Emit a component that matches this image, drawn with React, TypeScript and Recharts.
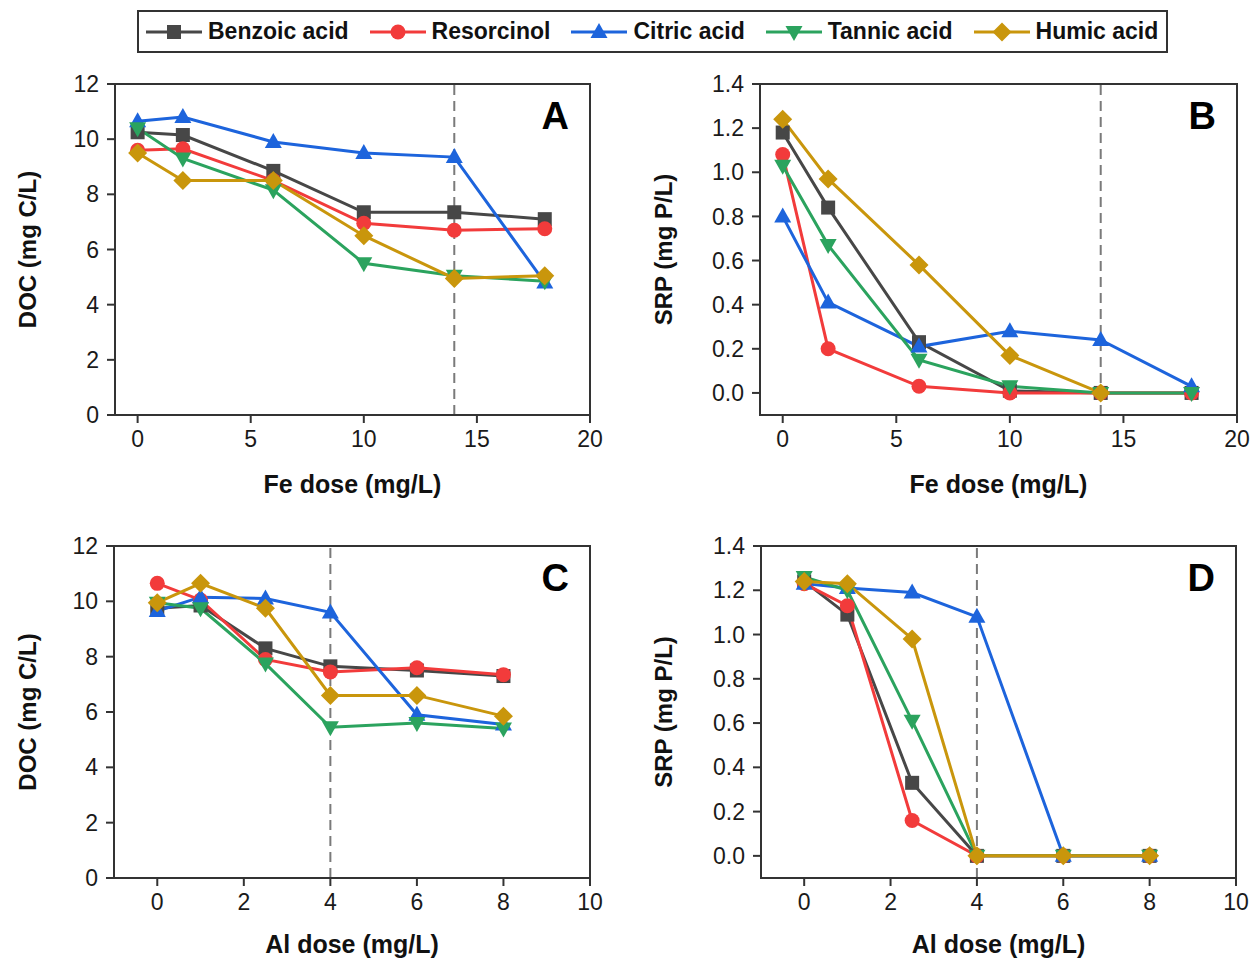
import React from "react";
import {
  LineChart,
  Line,
  XAxis,
  YAxis,
  ReferenceLine,
  ReferenceArea,
  Label,
} from "recharts";

const FONT = "'Liberation Sans', Arial, sans-serif";
const INK = "#333333";

const seriesNames = ["Benzoic acid", "Resorcinol", "Citric acid", "Tannic acid", "Humic acid"];
const seriesColors = ["#474747", "#f23b3b", "#1d64dc", "#2ba35e", "#c9960c"];
const seriesShapes = ["square", "circle", "triangle", "invTriangle", "diamond"];

const feDose = [0, 2, 6, 10, 14, 18];
const alDose = [0, 1, 2.5, 4, 6, 8];

const feTicks = [0, 5, 10, 15, 20];
const alTicks = [0, 2, 4, 6, 8, 10];
const docTicks = [0, 2, 4, 6, 8, 10, 12];
const srpTicks = [0, 0.2, 0.4, 0.6, 0.8, 1.0, 1.2, 1.4];

// one row per series, same order as seriesNames
const docFe = [
  [10.25, 10.15, 8.85, 7.35, 7.35, 7.1],
  [9.6, 9.65, 8.5, 6.95, 6.7, 6.75],
  [10.65, 10.8, 9.9, 9.5, 9.35, 4.8],
  [10.4, 9.3, 8.15, 5.5, 5.05, 4.85],
  [9.5, 8.5, 8.5, 6.5, 4.95, 5.05],
];
const srpFe = [
  [1.18, 0.84, 0.23, 0.01, 0, 0],
  [1.08, 0.2, 0.03, 0, 0, 0],
  [0.8, 0.41, 0.21, 0.28, 0.24, 0.03],
  [1.03, 0.67, 0.15, 0.03, 0, 0],
  [1.24, 0.97, 0.58, 0.17, 0, null],
];
const docAl = [
  [9.75, 9.85, 8.3, 7.65, 7.5, 7.3],
  [10.65, 10.05, 7.9, 7.45, 7.6, 7.35],
  [9.65, 10.15, 10.1, 9.6, 5.9, 5.55],
  [9.95, 9.75, 7.75, 5.45, 5.6, 5.4],
  [9.95, 10.65, 9.75, 6.6, 6.6, 5.85],
];
const srpAl = [
  [1.24, 1.09, 0.33, 0, 0, 0],
  [1.23, 1.13, 0.16, 0, 0, 0],
  [1.23, 1.21, 1.19, 1.08, 0, 0],
  [1.26, 1.2, 0.61, 0, 0, 0],
  [1.24, 1.23, 0.98, 0, 0, 0],
];

function markerShape(shape: string, cx: number, cy: number, color: string, key?: any) {
  switch (shape) {
    case "square":
      return <rect key={key} x={cx - 7} y={cy - 7} width={14} height={14} fill={color} />;
    case "circle":
      return <circle key={key} cx={cx} cy={cy} r={7.5} fill={color} />;
    case "triangle":
      return (
        <polygon key={key} points={`${cx},${cy - 9} ${cx + 8.5},${cy + 6} ${cx - 8.5},${cy + 6}`} fill={color} />
      );
    case "invTriangle":
      return (
        <polygon key={key} points={`${cx},${cy + 9} ${cx + 8.5},${cy - 6} ${cx - 8.5},${cy - 6}`} fill={color} />
      );
    default:
      return (
        <polygon key={key} points={`${cx},${cy - 9.5} ${cx + 9.5},${cy} ${cx},${cy + 9.5} ${cx - 9.5},${cy}`} fill={color} />
      );
  }
}

function Legend() {
  return (
    <div
      style={{
        position: "absolute",
        left: 137,
        top: 10,
        width: 1031,
        height: 43,
        boxSizing: "border-box",
        border: `2px solid ${INK}`,
        display: "flex",
        alignItems: "center",
        paddingLeft: 7,
        fontFamily: FONT,
        fontWeight: "bold",
        fontSize: 23,
        color: "#111",
        whiteSpace: "nowrap",
      }}
    >
      {seriesNames.map((name, i) => (
        <div
          key={name}
          style={{
            display: "flex",
            alignItems: "center",
            flexShrink: 0,
            marginRight: i < seriesNames.length - 1 ? 21 : 0,
          }}
        >
          <svg width={56} height={20} style={{ marginRight: 6 }}>
            <line x1={0} y1={10} x2={56} y2={10} stroke={seriesColors[i]} strokeWidth={3} />
            {markerShape(seriesShapes[i], 28, 10, seriesColors[i])}
          </svg>
          <span>{name}</span>
        </div>
      ))}
    </div>
  );
}

interface PanelProps {
  left: number;
  top: number;
  width: number;
  height: number;
  marginTop: number;
  marginRight: number;
  yAxisWidth: number;
  xAxisHeight: number;
  xs: number[];
  values: (number | null)[][];
  xDomain: [number, number];
  yDomain: [number, number];
  xTicks: number[];
  yTicks: number[];
  decimals: number;
  xTitle: string;
  yTitle: string;
  letter: string;
  dashX: number;
  xTitleDy: number;
  yTitleDx: number;
}

function Panel(p: PanelProps) {
  const axisLine = { stroke: INK, strokeWidth: 2 };
  const tick = { fill: "#1a1a1a", fontSize: 23, fontFamily: FONT };
  return (
    <div style={{ position: "absolute", left: p.left, top: p.top }}>
      <LineChart
        width={p.width}
        height={p.height}
        margin={{ top: p.marginTop, right: p.marginRight, left: 0, bottom: 0 }}
      >
        <XAxis
          type="number"
          dataKey="x"
          domain={p.xDomain}
          ticks={p.xTicks}
          interval={0}
          allowDataOverflow
          height={p.xAxisHeight}
          tickSize={8}
          tickMargin={8}
          axisLine={axisLine}
          tickLine={axisLine}
          tick={tick}
        >
          <Label
            content={(props: any) => {
              const vb = props.viewBox;
              return (
                <text
                  x={vb.x + vb.width / 2}
                  y={vb.y + p.xTitleDy}
                  textAnchor="middle"
                  dominantBaseline="central"
                  fontFamily={FONT}
                  fontWeight="bold"
                  fontSize={25}
                  fill="#111"
                >
                  {p.xTitle}
                </text>
              );
            }}
          />
        </XAxis>
        <YAxis
          type="number"
          domain={p.yDomain}
          ticks={p.yTicks}
          interval={0}
          allowDataOverflow
          width={p.yAxisWidth}
          tickSize={8}
          tickMargin={8}
          axisLine={axisLine}
          tickLine={axisLine}
          tick={tick}
          tickFormatter={(v: number) => v.toFixed(p.decimals)}
        >
          <Label
            content={(props: any) => {
              const vb = props.viewBox;
              const x = vb.x + p.yTitleDx;
              const y = vb.y + vb.height / 2;
              return (
                <text
                  x={x}
                  y={y}
                  transform={`rotate(-90, ${x}, ${y})`}
                  textAnchor="middle"
                  dominantBaseline="central"
                  fontFamily={FONT}
                  fontWeight="bold"
                  fontSize={24}
                  fill="#111"
                >
                  {p.yTitle}
                </text>
              );
            }}
          />
        </YAxis>
        <ReferenceArea
          x1={p.xDomain[0]}
          x2={p.xDomain[1]}
          y1={p.yDomain[0]}
          y2={p.yDomain[1]}
          fill="none"
          fillOpacity={0}
          stroke={INK}
          strokeWidth={2}
          ifOverflow="visible"
        >
          <Label
            content={(props: any) => {
              const vb = props.viewBox;
              return (
                <text
                  x={vb.x + vb.width - 21}
                  y={vb.y + 18 + 27}
                  textAnchor="end"
                  fontFamily={FONT}
                  fontWeight="bold"
                  fontSize={38}
                  fill="#000"
                >
                  {p.letter}
                </text>
              );
            }}
          />
        </ReferenceArea>
        <ReferenceLine x={p.dashX} stroke="#7a7a7a" strokeWidth={2} strokeDasharray="10 6" />
        {p.values.map((row, i) => {
          const points = p.xs.map((x, j) => ({ x, y: row[j] }));
          return (
            <Line
              key={seriesNames[i]}
              name={seriesNames[i]}
              data={points}
              dataKey="y"
              type="linear"
              stroke={seriesColors[i]}
              strokeWidth={3}
              activeDot={false}
              isAnimationActive={false}
              dot={(d: any) => {
                if (d.cx == null || d.cy == null || d.payload == null || d.payload.y == null) {
                  return <g key={`e-${i}-${d.index}`} />;
                }
                return markerShape(seriesShapes[i], d.cx, d.cy, seriesColors[i], `m-${i}-${d.index}`);
              }}
            />
          );
        })}
      </LineChart>
    </div>
  );
}

export default function App() {
  return (
    <div
      style={{
        position: "absolute",
        left: 0,
        top: 0,
        width: 1252,
        height: 960,
        background: "#fff",
        overflow: "hidden",
      }}
    >
      <Panel
        left={0}
        top={0}
        width={626}
        height={510}
        marginTop={84}
        marginRight={36}
        yAxisWidth={115}
        xAxisHeight={95}
        xs={feDose}
        values={docFe}
        xDomain={[-1, 20]}
        yDomain={[0, 12]}
        xTicks={feTicks}
        yTicks={docTicks}
        decimals={0}
        xTitle="Fe dose (mg/L)"
        yTitle="DOC (mg C/L)"
        letter="A"
        dashX={14}
        xTitleDy={69}
        yTitleDx={27}
      />
      <Panel
        left={630}
        top={0}
        width={622}
        height={510}
        marginTop={84}
        marginRight={15}
        yAxisWidth={130}
        xAxisHeight={95}
        xs={feDose}
        values={srpFe}
        xDomain={[-1, 20]}
        yDomain={[-0.1, 1.4]}
        xTicks={feTicks}
        yTicks={srpTicks}
        decimals={1}
        xTitle="Fe dose (mg/L)"
        yTitle="SRP (mg P/L)"
        letter="B"
        dashX={14}
        xTitleDy={69}
        yTitleDx={33}
      />
      <Panel
        left={0}
        top={510}
        width={626}
        height={450}
        marginTop={36}
        marginRight={36}
        yAxisWidth={114}
        xAxisHeight={82}
        xs={alDose}
        values={docAl}
        xDomain={[-1, 10]}
        yDomain={[0, 12]}
        xTicks={alTicks}
        yTicks={docTicks}
        decimals={0}
        xTitle="Al dose (mg/L)"
        yTitle="DOC (mg C/L)"
        letter="C"
        dashX={4}
        xTitleDy={66}
        yTitleDx={27}
      />
      <Panel
        left={630}
        top={510}
        width={622}
        height={450}
        marginTop={36}
        marginRight={16}
        yAxisWidth={131}
        xAxisHeight={82}
        xs={alDose}
        values={srpAl}
        xDomain={[-1, 10]}
        yDomain={[-0.1, 1.4]}
        xTicks={alTicks}
        yTicks={srpTicks}
        decimals={1}
        xTitle="Al dose (mg/L)"
        yTitle="SRP (mg P/L)"
        letter="D"
        dashX={4}
        xTitleDy={66}
        yTitleDx={33}
      />
      <Legend />
    </div>
  );
}
